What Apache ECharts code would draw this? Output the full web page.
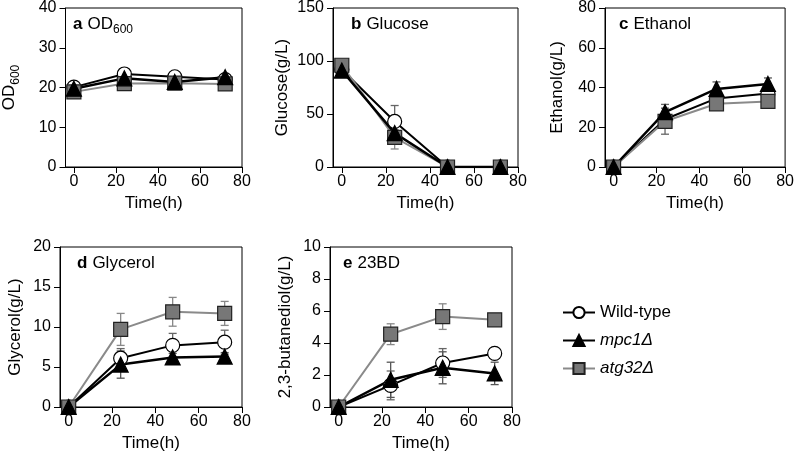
<!DOCTYPE html>
<html>
<head>
<meta charset="utf-8">
<script src="https://cdn.jsdelivr.net/npm/echarts@6/dist/echarts.min.js"></script>
<style>
  html, body { margin: 0; padding: 0; background: #fff; }
  #main { width: 797px; height: 466px; }
</style>
</head>
<body>
<div id="main"></div>
<script>
var times = [0, 24, 48, 72];
var strains = ['Wild-type', 'mpc1Δ', 'atg32Δ'];

// a OD600
var odWT = [20.1, 23.4, 22.7, 22.0];
var odMpc1 = [19.7, 22.3, 21.4, 22.6];
var odAtg32 = [18.9, 21.0, 21.1, 20.9];
var odWTErr = [0.6, 0.8, 0.6, 0.6];
var odMpc1Err = [0.5, 0.6, 0.5, 0.8];
var odAtg32Err = [0.5, 0.8, 0.5, 0.6];

// b Glucose
var gluWT = [92, 43, 0, 0];
var gluMpc1 = [91, 32, 0, 0];
var gluAtg32 = [96, 28, 0, 0];
var gluWTErr = [2, 15, 0, 0];
var gluMpc1Err = [2, 3, 0, 0];
var gluAtg32Err = [2, 11, 0, 0];

// c Ethanol
var ethWT = [0, 24, 34.5, 37];
var ethMpc1 = [0, 27.6, 39.3, 41.8];
var ethAtg32 = [0, 23, 31.8, 33];
var ethWTErr = [0, 7.5, 3, 2];
var ethMpc1Err = [0, 2, 3.5, 3];
var ethAtg32Err = [0, 2, 2, 2];

// d Glycerol
var glyWT = [0, 6.1, 7.7, 8.1];
var glyMpc1 = [0, 5.3, 6.2, 6.3];
var glyAtg32 = [0, 9.7, 11.9, 11.7];
var glyWTErr = [0, 1.2, 1.5, 1.5];
var glyMpc1Err = [0, 1.7, 0.5, 0.5];
var glyAtg32Err = [0, 2, 1.8, 1.5];

// e 23BD
var bdWT = [0, 1.35, 2.75, 3.35];
var bdMpc1 = [0, 1.7, 2.45, 2.1];
var bdAtg32 = [0, 4.55, 5.65, 5.45];
var bdWTErr = [0, 0.9, 0.9, 0.3];
var bdMpc1Err = [0, 1.1, 1.0, 0.7];
var bdAtg32Err = [0, 0.65, 0.8, 0.2];

var FONT = "'Liberation Sans', Arial, sans-serif";

var panels = [
  { key: 'a', title: 'OD', sub: '600', yName: '{n|OD}{s|600}', yMax: 40, yStep: 10,
    grid: { left: 60, top: 7, width: 182, height: 160 }, nameGap: 44, titlePos: [73, 12],
    vals: [odWT, odMpc1, odAtg32], errs: [odWTErr, odMpc1Err, odAtg32Err] },
  { key: 'b', title: 'Glucose', yName: 'Glucose(g/L)', yMax: 150, yStep: 50,
    grid: { left: 333, top: 7, width: 185, height: 160 }, nameGap: 42, titlePos: [351, 12],
    vals: [gluWT, gluMpc1, gluAtg32], errs: [gluWTErr, gluMpc1Err, gluAtg32Err] },
  { key: 'c', title: 'Ethanol', yName: 'Ethanol(g/L)', yMax: 80, yStep: 20,
    grid: { left: 605, top: 7, width: 184, height: 160 }, nameGap: 39, titlePos: [619, 12],
    vals: [ethWT, ethMpc1, ethAtg32], errs: [ethWTErr, ethMpc1Err, ethAtg32Err] },
  { key: 'd', title: 'Glycerol', yName: 'Glycerol(g/L)', yMax: 20, yStep: 5,
    grid: { left: 60, top: 247, width: 182, height: 160 }, nameGap: 36, titlePos: [77, 251],
    vals: [glyWT, glyMpc1, glyAtg32], errs: [glyWTErr, glyMpc1Err, glyAtg32Err] },
  { key: 'e', title: '23BD', yName: '2,3-butanediol(g/L)', yMax: 10, yStep: 2,
    grid: { left: 330, top: 247, width: 182, height: 160 }, nameGap: 36, titlePos: [343, 251],
    vals: [bdWT, bdMpc1, bdAtg32], errs: [bdWTErr, bdMpc1Err, bdAtg32Err] }
];

var styles = [
  { symbol: 'circle', size: 14, line: '#000', lw: 2, fill: '#fff', border: '#000', errColor: '#666' },
  { symbol: 'triangle', size: 15, line: '#000', lw: 2.5, fill: '#000', border: '#000', errColor: '#555' },
  { symbol: 'rect', size: 14, line: '#8a8a8a', lw: 2, fill: '#777', border: '#222', errColor: '#888' }
];

function renderErr(params, api) {
  var x = api.value(0), lo = api.value(1), hi = api.value(2);
  if (hi - lo <= 0) return null;
  var top = api.coord([x, hi]);
  var bot = api.coord([x, lo]);
  var w = 4;
  var color = api.visual('color');
  return {
    type: 'group',
    children: [
      { type: 'line', shape: { x1: top[0], y1: top[1], x2: bot[0], y2: bot[1] }, style: { stroke: color, lineWidth: 1.3 } },
      { type: 'line', shape: { x1: top[0] - w, y1: top[1], x2: top[0] + w, y2: top[1] }, style: { stroke: color, lineWidth: 1.3 } },
      { type: 'line', shape: { x1: bot[0] - w, y1: bot[1], x2: bot[0] + w, y2: bot[1] }, style: { stroke: color, lineWidth: 1.3 } }
    ]
  };
}

var grids = [], xAxes = [], yAxes = [], series = [], titles = [];
var drawOrder = [0, 2, 1];

panels.forEach(function (p, i) {
  grids.push(Object.assign({ show: true, borderColor: '#000', borderWidth: 1, containLabel: false }, p.grid));
  xAxes.push({
    gridIndex: i, type: 'value', min: -4, max: 80,
    name: 'Time(h)', nameLocation: 'middle', nameGap: 28,
    nameTextStyle: { fontFamily: FONT, fontSize: 17, color: '#000' },
    axisLine: { show: true, onZero: false, lineStyle: { color: '#000', width: 1 } },
    axisTick: { show: true, length: 6, customValues: [0, 20, 40, 60, 80], lineStyle: { color: '#000' } },
    axisLabel: { customValues: [0, 20, 40, 60, 80], margin: 7, fontFamily: FONT, fontSize: 16, color: '#000' },
    splitLine: { show: false }
  });
  yAxes.push({
    gridIndex: i, type: 'value', min: 0, max: p.yMax, interval: p.yStep,
    name: p.yName, nameLocation: 'middle', nameGap: p.nameGap,
    nameTextStyle: {
      fontFamily: FONT, fontSize: 17, color: '#000',
      rich: {
        n: { fontFamily: FONT, fontSize: 17, color: '#000', lineHeight: 24 },
        s: { fontFamily: FONT, fontSize: 12, color: '#000', lineHeight: 10, verticalAlign: 'bottom' }
      }
    },
    axisLine: { show: true, onZero: false, lineStyle: { color: '#000', width: 1 } },
    axisTick: { show: true, length: 6, lineStyle: { color: '#000' } },
    axisLabel: { margin: 9, fontFamily: FONT, fontSize: 16, color: '#000' },
    splitLine: { show: false }
  });
  titles.push({
    text: p.sub ? '{b|' + p.key + '} {n|' + p.title + '}{s|' + p.sub + '}' : '{b|' + p.key + '} {n|' + p.title + '}',
    left: p.titlePos[0], top: p.titlePos[1], padding: 0,
    textStyle: {
      fontWeight: 'normal',
      rich: {
        b: { fontFamily: FONT, fontSize: 17, fontWeight: 'bold', color: '#000', lineHeight: 24 },
        n: { fontFamily: FONT, fontSize: 17, fontWeight: 'normal', color: '#000', lineHeight: 24 },
        s: { fontFamily: FONT, fontSize: 12, fontWeight: 'normal', color: '#000', lineHeight: 10, verticalAlign: 'bottom' }
      }
    }
  });

  // error bars first, under the markers
  drawOrder.forEach(function (k) {
    var st = styles[k];
    series.push({
      type: 'custom', xAxisIndex: i, yAxisIndex: i, z: 1, silent: true,
      itemStyle: { color: st.errColor },
      renderItem: renderErr,
      data: times.map(function (t, j) {
        return [t, p.vals[k][j] - p.errs[k][j], p.vals[k][j] + p.errs[k][j]];
      })
    });
  });
  drawOrder.forEach(function (k) {
    var st = styles[k];
    series.push({
      name: strains[k], type: 'line', xAxisIndex: i, yAxisIndex: i, z: 3,
      symbol: st.symbol, symbolSize: st.size, showAllSymbol: true,
      lineStyle: { color: st.line, width: st.lw },
      itemStyle: { color: st.fill, borderColor: st.border, borderWidth: 1.2, opacity: 1 },
      emphasis: { disabled: true },
      animation: false,
      data: times.map(function (t, j) { return [t, p.vals[k][j]]; })
    });
  });
});

var chart = echarts.init(document.getElementById('main'), null, { renderer: 'canvas' });
chart.setOption({
  backgroundColor: '#fff',
  animation: false,
  title: titles,
  grid: grids,
  xAxis: xAxes,
  yAxis: yAxes,
  legend: {
    data: strains,
    orient: 'vertical',
    left: 557, top: 299,
    itemWidth: 32, itemHeight: 14, itemGap: 11,
    selectedMode: false,
    formatter: function (name) {
      return name === 'Wild-type' ? '{r|' + name + '}' : '{i|' + name + '}';
    },
    textStyle: {
      rich: {
        r: { fontFamily: FONT, fontSize: 17, color: '#000' },
        i: { fontFamily: FONT, fontSize: 17, fontStyle: 'italic', color: '#000' }
      }
    }
  },
  series: series
});
</script>
</body>
</html>
